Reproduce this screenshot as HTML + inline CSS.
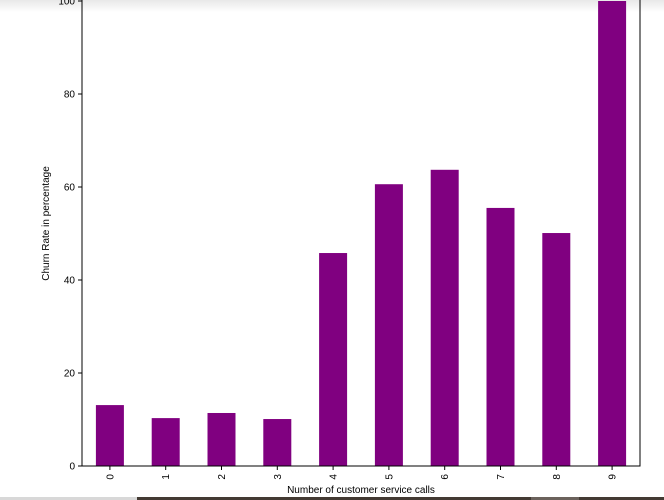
<!DOCTYPE html>
<html><head><meta charset="utf-8"><style>
body{margin:0;width:664px;height:500px;overflow:hidden;background:#fff;font-family:"Liberation Sans",sans-serif;position:relative}
#topfade{position:absolute;left:0;top:0;width:664px;height:12px;background:linear-gradient(#e8e8e8,#fff)}
</style></head><body>
<div id="topfade"></div>
<svg id="chart" width="664" height="500" style="position:absolute;left:0;top:0"></svg>
<div style="position:absolute;left:0;top:497px;width:137px;height:3px;background:#d8d8d8"></div>
<div style="position:absolute;left:137px;top:497px;width:527px;height:3px;background:#433a33"></div>
<div style="position:absolute;left:531px;top:497px;width:48px;height:3px;background:#6b625c"></div>
<script>
const categories=["0","1","2","3","4","5","6","7","8","9"];
const churnValues=[13.1,10.3,11.4,10.1,45.8,60.6,63.7,55.5,50.1,100];
const yTicks=[0,20,40,60,80,100];
const NS="http://www.w3.org/2000/svg";
const svg=document.getElementById('chart');
const L=82,R=640,B=466,T=1;
const y=v=>B-(v/100)*(B-T);
const step=(R-L)/categories.length;
const x=i=>L+step*(i+0.5);
function mk(t,a,p){const e=document.createElementNS(NS,t);for(const k in a)e.setAttribute(k,a[k]);(p||svg).appendChild(e);return e;}
categories.forEach((c,i)=>{
 const b=mk('rect',{x:x(i)-14,y:y(churnValues[i]),width:28,height:B-y(churnValues[i]),fill:'#800080'});
 
 
 mk('line',{x1:x(i),x2:x(i),y1:B,y2:B+4,stroke:'#000'});
 const t=mk('text',{x:0,y:0,'font-size':10,transform:`translate(${x(i)+3.5},${B+8}) rotate(-90)`,'text-anchor':'end'});
 t.textContent=c;
 
 
});
yTicks.forEach(v=>{
 mk('line',{x1:L-4,x2:L,y1:y(v),y2:y(v),stroke:'#000'});
 const t=mk('text',{x:L-7,y:y(v)+3.5,'font-size':10,'text-anchor':'end'});
 t.textContent=v;
 
 
});
const ax=mk('path',{d:`M${L},0V${B}H${R}V0`,fill:'none',stroke:'#000','stroke-width':1});


const xt=mk('text',{x:(L+R)/2,y:493,'font-size':10,'text-anchor':'middle'});
xt.textContent='Number of customer service calls';


const yt=mk('text',{x:0,y:0,'font-size':10,'text-anchor':'middle',transform:`translate(49,${(B+T)/2-10}) rotate(-90)`});
yt.textContent='Churn Rate in percentage';


</script>
</body></html>
